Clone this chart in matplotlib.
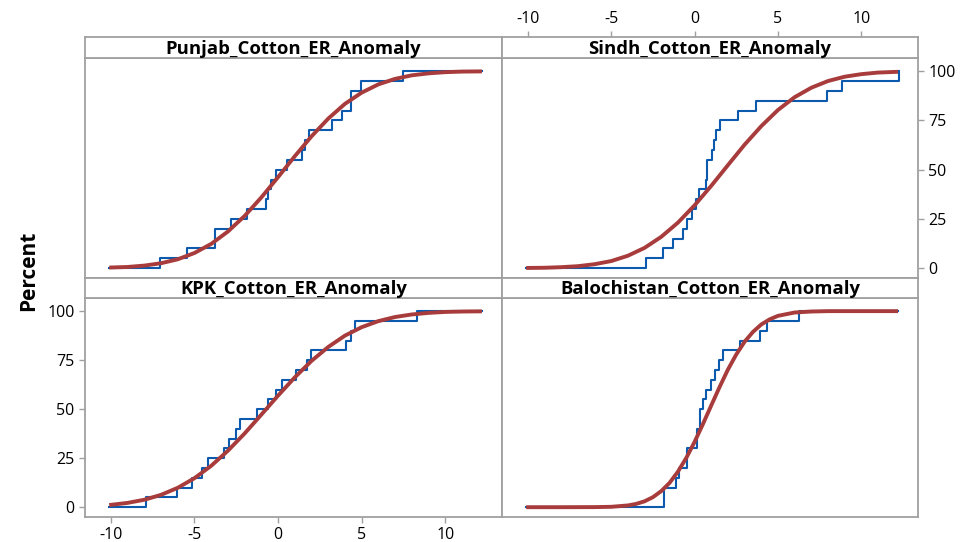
import numpy as np
import matplotlib.pyplot as plt

plt.rcParams['font.family'] = ['Open Sans', 'DejaVu Sans']
plt.rcParams['axes.unicode_minus'] = False

punjab = [-7.04, -5.47, -3.75, -3.75, -2.81, -1.83, -0.70, -0.58, -0.40, -0.15,
          0.56, 1.41, 1.61, 1.85, 3.20, 3.84, 4.36, 4.36, 4.94, 7.46]
sindh = [-2.93, -1.87, -1.30, -0.67, -0.48, -0.14, 0.06, 0.26, 0.66, 0.76,
         0.76, 1.06, 1.19, 1.31, 1.55, 2.61, 3.68, 7.92, 8.84, 12.26]
kpk = [-7.90, -6.07, -5.15, -4.52, -4.18, -3.21, -2.93, -2.49, -2.29, -1.24,
       -0.58, -0.14, 0.26, 1.09, 1.75, 1.95, 4.08, 4.36, 4.60, 8.32]
balochistan = [-1.83, -1.83, -1.09, -0.94, -0.48, -0.48, 0.16, 0.16, 0.30, 0.30,
               0.50, 0.70, 1.01, 1.21, 1.45, 1.71, 2.71, 3.90, 4.34, 6.29]

# fitted (red) curves, percent read at these x positions
fit_x = [-10.1, -9, -8, -7, -6, -5, -4, -3, -2, -1, 0, 1, 2, 3, 4, 5, 6, 7, 8, 9, 10, 11, 12.2]
punjab_fit = [0.3, 0.6, 1.3, 2.5, 4.5, 7.7, 12.3, 18.6, 26.5, 35.9, 46.2, 56.8,
              66.9, 75.9, 83.4, 89.1, 93.3, 96.1, 97.9, 98.9, 99.5, 99.8, 99.9]
sindh_fit = [0.1, 0.2, 0.5, 1.0, 2.0, 3.6, 6.3, 10.3, 15.9, 23.1, 31.9, 41.8,
             52.3, 62.7, 72.1, 80.3, 86.8, 91.6, 95.0, 97.2, 98.5, 99.3, 99.7]
kpk_fit = [1.1, 2.2, 3.8, 6.3, 9.9, 14.8, 21.1, 28.8, 37.6, 47.2, 56.9, 66.2,
           74.6, 81.7, 87.5, 91.8, 94.9, 97.0, 98.3, 99.1, 99.6, 99.8, 99.9]
bal_fit_x = [-10.1, -8, -6, -5, -4, -3.5, -3, -2.5, -2, -1.5, -1, -0.5, 0, 0.5,
             1, 1.5, 2, 2.5, 3, 3.5, 4, 4.5, 5, 6, 7, 8, 12.2]
bal_fit = [0.0, 0.0, 0.05, 0.2, 0.9, 1.7, 3.0, 5.1, 8.2, 12.4, 18.1, 25.1, 33.3, 42.4,
           51.9, 61.3, 70.2, 77.9, 84.4, 89.4, 93.2, 95.8, 97.6, 99.3, 99.8, 100.0, 100.0]

titles = ['Punjab_Cotton_ER_Anomaly', 'Sindh_Cotton_ER_Anomaly',
          'KPK_Cotton_ER_Anomaly', 'Balochistan_Cotton_ER_Anomaly']
xticks = [-10, -5, 0, 5, 10]
yticks = [0, 25, 50, 75, 100]

x_lo, x_hi = -10.1, 12.2
blue = '#0b5aad'
red = '#a83c3c'
grey = '#a0a0a0'

W, H = 966, 542


def box(x0, y0, x1, y1):
    return [x0 / W, 1 - y1 / H, (x1 - x0) / W, (y1 - y0) / H]


fig = plt.figure(figsize=(9.66, 5.42), dpi=100)

cols = [(85, 502), (502, 918)]
rows = [((37, 58), (58, 278)), ((278, 298), (298, 517))]

panels = [(punjab, fit_x, punjab_fit), (sindh, fit_x, sindh_fit),
          (kpk, fit_x, kpk_fit), (balochistan, bal_fit_x, bal_fit)]

for i, (obs, fx, fy) in enumerate(panels):
    r, c = divmod(i, 2)
    (sy0, sy1), (py0, py1) = rows[r]
    x0, x1 = cols[c]

    ax = fig.add_axes(box(x0, py0, x1, py1))
    obs = np.sort(obs)
    n = len(obs)
    sx = np.concatenate([[x_lo], obs, [max(x_hi, obs[-1])]])
    sy = np.concatenate([[0], np.arange(1, n + 1) / n * 100, [100]])
    ax.step(sx, sy, where='post', color=blue, lw=1.5, zorder=2)
    ax.plot(fx, fy, color=red, lw=2.8, zorder=3, solid_capstyle='butt')
    ax.set_xlim(-11.55, 13.4)
    ax.set_ylim(-5, 106.7)
    for s in ax.spines.values():
        s.set_color(grey)
        s.set_linewidth(1.3)
    ax.tick_params(colors=grey, labelcolor='black', labelsize=11.5, length=4, width=1)
    ax.set_xticks([])
    ax.set_yticks([])
    if i == 2:
        ax.set_xticks(xticks)
        ax.set_yticks(yticks)
    if i == 1:
        ax.yaxis.tick_right()
        ax.set_yticks(yticks)

    st = fig.add_axes(box(x0, sy0, x1, sy1))
    st.set_xlim(-11.55, 13.4)
    st.set_yticks([])
    st.set_xticks([])
    for s in st.spines.values():
        s.set_color(grey)
        s.set_linewidth(1.3)
    st.text(0.5, 0.45, titles[i], transform=st.transAxes, ha='center', va='center',
            fontsize=13.3, fontweight='bold')
    if i == 1:
        st.xaxis.tick_top()
        st.set_xticks(xticks)
        st.tick_params(colors=grey, labelcolor='black', labelsize=11.5, length=4, width=1)

fig.text(0.03, 0.5, 'Percent', rotation=90, ha='center', va='center',
         fontsize=15, fontweight='bold')

fig.savefig('out.png', dpi=100)
